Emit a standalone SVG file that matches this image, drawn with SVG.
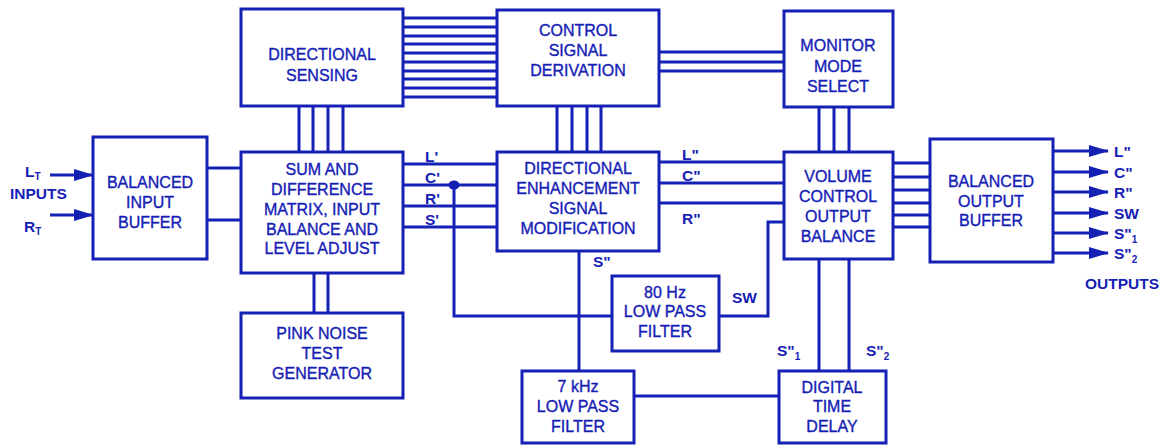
<svg xmlns="http://www.w3.org/2000/svg" width="1161" height="446" viewBox="0 0 1161 446">
<style>
.box{fill:#fff;stroke:#1520b5;stroke-width:3}
.ln{stroke:#1520b5;stroke-width:3;fill:none}
.t{font-family:"Liberation Sans",Arial,sans-serif;font-size:16px;fill:#1520b5;stroke:#1520b5;stroke-width:0.35;text-anchor:middle}
.lb{font-family:"Liberation Sans",Arial,sans-serif;font-size:15.5px;font-weight:bold;fill:#1520b5}
.sub{font-size:10px}
</style>
<defs>
<marker id="ah" markerUnits="userSpaceOnUse" markerWidth="20" markerHeight="12" refX="19" refY="6" orient="auto">
<path d="M0,0 L20,6 L0,12 z" fill="#1520b5"/>
</marker>
</defs>
<rect width="1161" height="446" fill="#fff"/>
<g id="connectors">
<path class="ln" d="M403,18H497M403,27H497M403,36H497M403,44H497M403,53H497M403,62H497M403,71H497M403,79H497M403,88H497M403,97H497"/>
<path class="ln" d="M659,52H784M659,62H784M659,71H784"/>
<path class="ln" d="M299,106V152M313,106V152M328,106V152M343,106V152"/>
<path class="ln" d="M557,106V152M572,106V152M587,106V152M601,106V152"/>
<path class="ln" d="M819,107V152M834,107V152M849,107V152"/>
<path class="ln" d="M207,168H241M207,220H241"/>
<path class="ln" d="M314,273V313M328,273V313"/>
<path class="ln" d="M403,164H497M403,185H497M403,206H497M403,227H497"/>
<ellipse cx="454" cy="185" rx="5.5" ry="4.5" fill="#1520b5"/>
<path class="ln" d="M454,185V316H612"/>
<path class="ln" d="M579,251V371"/>
<path class="ln" d="M719,316H768V222H784"/>
<path class="ln" d="M659,162H784M659,183H784M659,203H784"/>
<path class="ln" d="M819,259V371M849,259V371"/>
<path class="ln" d="M634,396H779"/>
<path class="ln" d="M893,163H930M893,177H930M893,190H930M893,203H930M893,215H930M893,227H930"/>
<g class="ln" marker-end="url(#ah)">
<path d="M1053,151H1108"/><path d="M1053,172H1108"/><path d="M1053,192H1108"/><path d="M1053,213H1108"/><path d="M1053,233H1108"/><path d="M1053,253H1108"/>
<path d="M50,175H93"/><path d="M50,215H93"/>
</g>
<text class="lb" x="425" y="162">L'</text>
<text class="lb" x="425" y="183">C'</text>
<text class="lb" x="425" y="204">R'</text>
<text class="lb" x="425" y="225">S'</text>
<text class="lb" x="682" y="160">L"</text>
<text class="lb" x="682" y="181">C"</text>
<text class="lb" x="682" y="224">R"</text>
<text class="lb" x="593" y="267">S"</text>
<text class="lb" x="732" y="303">SW</text>
<text class="lb" x="777" y="356">S"<tspan class="sub" dy="4">1</tspan></text>
<text class="lb" x="866" y="356">S"<tspan class="sub" dy="4">2</tspan></text>
<text class="lb" x="1114" y="157">L"</text>
<text class="lb" x="1114" y="178">C"</text>
<text class="lb" x="1114" y="198">R"</text>
<text class="lb" x="1114" y="219">SW</text>
<text class="lb" x="1114" y="239">S"<tspan class="sub" dy="4">1</tspan></text>
<text class="lb" x="1114" y="259">S"<tspan class="sub" dy="4">2</tspan></text>
<text class="lb" x="1085" y="289">OUTPUTS</text>
<text class="lb" x="25" y="177">L<tspan class="sub" dy="3">T</tspan></text>
<text class="lb" x="10" y="199">INPUTS</text>
<text class="lb" x="24" y="232">R<tspan class="sub" dy="3">T</tspan></text>
</g>
<g id="directional-sensing"><rect class="box" x="241" y="9" width="162" height="97"/>
<text class="t" x="322" y="60">DIRECTIONAL</text><text class="t" x="322" y="81">SENSING</text></g>
<g id="control-signal-derivation"><rect class="box" x="497" y="10" width="162" height="96"/>
<text class="t" x="578" y="36">CONTROL</text><text class="t" x="578" y="56">SIGNAL</text><text class="t" x="578" y="76">DERIVATION</text></g>
<g id="monitor-mode-select"><rect class="box" x="784" y="11" width="109" height="96"/>
<text class="t" x="838" y="51">MONITOR</text><text class="t" x="838" y="72">MODE</text><text class="t" x="838" y="92">SELECT</text></g>
<g id="balanced-input-buffer"><rect class="box" x="93" y="137" width="114" height="122"/>
<text class="t" x="150" y="188">BALANCED</text><text class="t" x="150" y="208">INPUT</text><text class="t" x="150" y="228">BUFFER</text></g>
<g id="sum-difference-matrix"><rect class="box" x="241" y="152" width="162" height="121"/>
<text class="t" x="322" y="175">SUM AND</text><text class="t" x="322" y="195">DIFFERENCE</text><text class="t" x="322" y="215">MATRIX, INPUT</text><text class="t" x="322" y="235">BALANCE AND</text><text class="t" x="322" y="254">LEVEL ADJUST</text></g>
<g id="directional-enhancement"><rect class="box" x="497" y="152" width="162" height="99"/>
<text class="t" x="578" y="174">DIRECTIONAL</text><text class="t" x="578" y="194">ENHANCEMENT</text><text class="t" x="578" y="214">SIGNAL</text><text class="t" x="578" y="234">MODIFICATION</text></g>
<g id="volume-control"><rect class="box" x="784" y="152" width="109" height="107"/>
<text class="t" x="838" y="182">VOLUME</text><text class="t" x="838" y="202">CONTROL</text><text class="t" x="838" y="222">OUTPUT</text><text class="t" x="838" y="242">BALANCE</text></g>
<g id="balanced-output-buffer"><rect class="box" x="930" y="139" width="123" height="123"/>
<text class="t" x="991" y="187">BALANCED</text><text class="t" x="991" y="207">OUTPUT</text><text class="t" x="991" y="226">BUFFER</text></g>
<g id="pink-noise"><rect class="box" x="241" y="313" width="162" height="85"/>
<text class="t" x="322" y="339">PINK NOISE</text><text class="t" x="322" y="359">TEST</text><text class="t" x="322" y="379">GENERATOR</text></g>
<g id="lpf-80hz"><rect class="box" x="612" y="276" width="107" height="75"/>
<text class="t" x="665" y="298">80 Hz</text><text class="t" x="665" y="317">LOW PASS</text><text class="t" x="665" y="337">FILTER</text></g>
<g id="lpf-7khz"><rect class="box" x="522" y="371" width="112" height="72"/>
<text class="t" x="578" y="392">7 kHz</text><text class="t" x="578" y="412">LOW PASS</text><text class="t" x="578" y="432">FILTER</text></g>
<g id="digital-time-delay"><rect class="box" x="779" y="371" width="107" height="72"/>
<text class="t" x="832" y="393">DIGITAL</text><text class="t" x="832" y="412">TIME</text><text class="t" x="832" y="432">DELAY</text></g>
</svg>
